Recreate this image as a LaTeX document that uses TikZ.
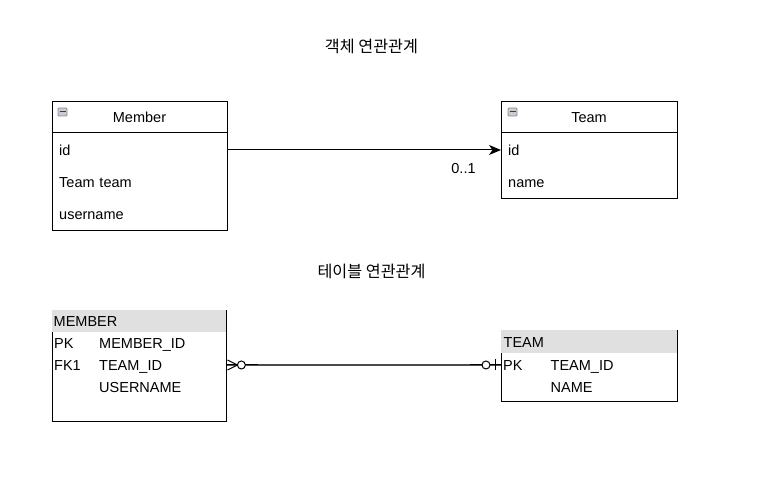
\documentclass[tikz,border=0pt]{standalone}
\usepackage{fontspec}
\setmainfont{Liberation Sans}
\newfontfamily\krfont{Noto Sans CJK KR}
\usetikzlibrary{arrows.meta,calc}
\definecolor{hdrgray}{RGB}{224,224,224}
\definecolor{icongray}{RGB}{200,205,212}
\tikzset{
  txt/.style={font=\fontsize{14.5}{17}\selectfont, text height=10.4pt, text depth=0pt, inner ysep=0pt},
  classrow/.style={txt, anchor=west, text width=161pt, inner xsep=7pt, align=left},
  trow/.style={txt, anchor=west, text width=171pt, inner xsep=2pt, align=left},
  box/.style={draw=black, line width=1pt, inner sep=0pt, anchor=north west},
  title/.style={font=\krfont\fontsize{16.2}{19}\selectfont, anchor=base, inner sep=0pt},
  minusicon/.style={draw=black!45, fill=icongray, rounded corners=1pt, line width=0.8pt, minimum width=9pt, minimum height=8pt, inner sep=0pt},
  hdr/.style={fill=hdrgray, draw=none, inner sep=0pt, anchor=north west}
}
\begin{document}
\begin{tikzpicture}[x=1pt,y=-1pt]
\useasboundingbox[fill=white] (0,0) rectangle (764,486);

% titles
\node[title] (t1) at (371.5,53) {객체 연관관계};
\node[title] (t2) at (371.5,277.5) {테이블 연관관계};

% Member class
\node[box, minimum width=175pt, minimum height=129.5pt] (member) at (52,101) {};
\draw[line width=1pt] (52,133) -- (227,133);
\node[minusicon] (mminus) at (62.5,112) {};
\draw[black!75, line width=1pt] (59.5,112) -- (65.5,112);
\node[txt] (mtitle) at (139.5,117.5) {Member};
\node[classrow] (mid) at (52,150) {id};
\node[classrow] (mteam) at (52,182.5) {Team team};
\node[classrow] (muser) at (52,214.5) {username};

% Team class
\node[box, minimum width=176pt, minimum height=97.5pt] (team) at (501,101) {};
\draw[line width=1pt] (501,133) -- (677,133);
\node[minusicon] (tminus) at (512.5,112) {};
\draw[black!75, line width=1pt] (509.5,112) -- (515.5,112);
\node[txt] (ttitle) at (589,117.5) {Team};
\node[classrow, text width=162pt] (tid) at (501,150) {id};
\node[classrow, text width=162pt] (tname) at (501,182.5) {name};

% association arrow
\draw[line width=1pt, -{Stealth[length=12pt, width=10pt, inset=3.5pt]}] (mid.east) -- (tid.west);
\node[txt] (mult) at (463.5,168) {0..1};

% MEMBER table
\node[box, minimum width=174pt, minimum height=111pt] (mtab) at (52,310) {};
\node[hdr, minimum width=174pt, minimum height=22pt] (mhdr) at (51.5,309.5) {};
\node[txt, anchor=west, inner xsep=0pt] (mhtext) at (53.5,321) {MEMBER};
\node[trow] (mpk) at (52,343) {\makebox[45pt][l]{PK}MEMBER\_ID};
\node[trow] (mfk) at (52,365) {\makebox[45pt][l]{FK1}TEAM\_ID};
\node[trow] (muname) at (52,387) {\makebox[45pt][l]{}USERNAME};

% TEAM table
\node[box, minimum width=176pt, minimum height=70.5pt] (ttab) at (501,330.5) {};
\node[hdr, minimum width=176pt, minimum height=22.5pt] (thdr) at (500.5,330) {};
\node[txt, anchor=west, inner xsep=0pt] (thtext) at (503.5,342) {TEAM};
\node[trow, text width=172pt] (tpk) at (501,365) {\makebox[47.5pt][l]{PK}TEAM\_ID};
\node[trow, text width=172pt] (tnm) at (501,387) {\makebox[47.5pt][l]{}NAME};

% relationship line
\draw[black!70, line width=1.2pt] (mfk.east) -- (tpk.west);
% zero-or-many end at MEMBER
\draw[black, line width=1pt] ($(mfk.east)+(14,0)$) -- ($(mfk.east)+(31,0)$);
\draw[black, line width=1pt] ($(mfk.east)+(0,-5)$) -- ($(mfk.east)+(10,0)$) -- ($(mfk.east)+(0,5)$);
\draw[black, line width=1pt] (mfk.east) -- ($(mfk.east)+(10,0)$);
\draw[black, line width=1pt, fill=white] ($(mfk.east)+(14,0)$) circle (4pt);
% zero-or-one end at TEAM
\draw[black, line width=1pt] ($(tpk.west)+(-31,0)$) -- ($(tpk.west)+(-19,0)$);
\draw[black, line width=1pt] ($(tpk.west)+(-11,0)$) -- (tpk.west);
\draw[black, line width=1pt, fill=white] ($(tpk.west)+(-15,0)$) circle (4pt);
\draw[black, line width=1pt] ($(tpk.west)+(-6,-5.5)$) -- ($(tpk.west)+(-6,5.5)$);
\end{tikzpicture}
\end{document}
